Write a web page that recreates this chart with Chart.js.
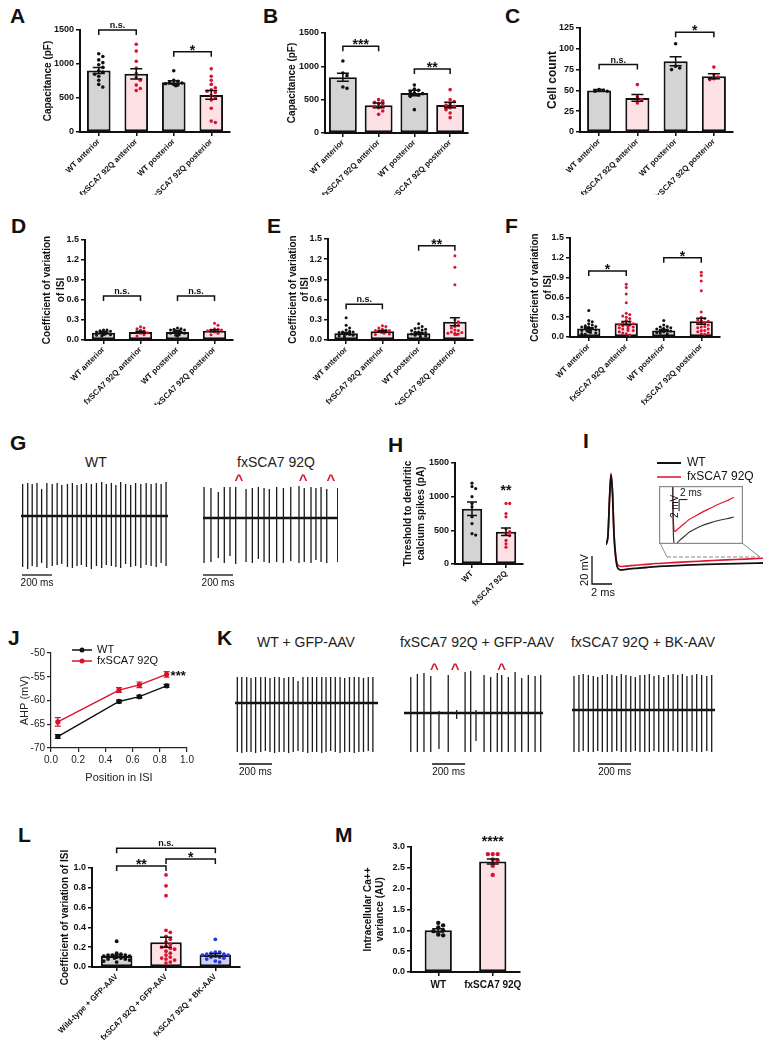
<!DOCTYPE html>
<html><head><meta charset="utf-8">
<script src="https://cdn.jsdelivr.net/npm/chart.js@4.4.1/dist/chart.umd.min.js"></script>
<style>
html,body{margin:0;padding:0;background:#fff;}
body{width:780px;height:1050px;position:relative;overflow:hidden;font-family:"Liberation Sans",Arial,sans-serif;color:#111;}
canvas{position:absolute;}
.lt{position:absolute;font-size:21px;font-weight:bold;line-height:1;}
.tt{position:absolute;font-size:14px;line-height:1;text-align:center;width:220px;margin-left:-110px;color:#222;white-space:nowrap;}
</style></head><body>
<div class="lt" style="left:10px;top:5px">A</div>
<div class="lt" style="left:263px;top:5px">B</div>
<div class="lt" style="left:505px;top:5px">C</div>
<div class="lt" style="left:11px;top:215px">D</div>
<div class="lt" style="left:267px;top:215px">E</div>
<div class="lt" style="left:505px;top:215px">F</div>
<div class="lt" style="left:10px;top:432px">G</div>
<div class="lt" style="left:388px;top:434px">H</div>
<div class="lt" style="left:583px;top:430px">I</div>
<div class="lt" style="left:8px;top:627px">J</div>
<div class="lt" style="left:217px;top:627px">K</div>
<div class="lt" style="left:18px;top:824px">L</div>
<div class="lt" style="left:335px;top:824px">M</div>
<div class="tt" style="left:96px;top:455px">WT</div>
<div class="tt" style="left:276px;top:455px">fxSCA7 92Q</div>
<div class="tt" style="left:306px;top:635px">WT + GFP-AAV</div>
<div class="tt" style="left:477px;top:635px">fxSCA7 92Q + GFP-AAV</div>
<div class="tt" style="left:643px;top:635px">fxSCA7 92Q + BK-AAV</div>
<script>
// ================= DATA =================
const catsRegion = ['WT anterior','fxSCA7 92Q anterior','WT posterior','fxSCA7 92Q posterior'];
const catsTwo = ['WT','fxSCA7 92Q'];
const catsL = ['Wild-type + GFP-AAV','fxSCA7 92Q + GFP-AAV','fxSCA7 92Q + BK-AAV'];

// A: capacitance (pF)
const A_mean=[905,855,730,545], A_sem=[45,75,25,65];
const A_wtAnt=[1150,1110,1060,1020,990,950,900,880,850,820,760,700,660];
const A_fxAnt=[1290,1190,1040,940,860,800,760,690,640,610];
const A_wtPost=[900,760,745,730,720,710,700,690,680];
const A_fxPost=[930,820,760,700,650,620,600,580,540,500,470,350,160,140];
// B: capacitance (pF)
const B_mean=[835,415,600,420], B_sem=[60,35,40,40];
const B_wtAnt=[1080,900,860,690,670];
const B_fxAnt=[500,480,460,440,420,400,380,330,280];
const B_wtPost=[720,660,640,620,600,590,570,550,350];
const B_fxPost=[650,500,470,440,420,400,380,350,300,230];
// C: cell count
const C_mean=[50,41,85,67], C_sem=[1,4,5.5,3];
const C_wtAnt=[51,50,49,49];
const C_fxAnt=[57,42,39,35];
const C_wtPost=[106,79,77,75];
const C_fxPost=[78,69,66,64,63];
// D: CV of ISI
const D_mean=[0.11,0.12,0.12,0.14], D_sem=[0.01,0.01,0.01,0.012];
const D_wtAnt=[0.15,0.15,0.14,0.13,0.12,0.12,0.11,0.1,0.1,0.09,0.08,0.08,0.07,0.06,0.12,0.11];
const D_fxAnt=[0.2,0.18,0.17,0.15,0.13,0.12,0.11,0.1,0.08,0.06];
const D_wtPost=[0.18,0.17,0.16,0.15,0.15,0.14,0.14,0.13,0.13,0.12,0.12,0.11,0.1,0.1,0.09,0.08,0.07,0.06,0.12,0.11];
const D_fxPost=[0.25,0.22,0.17,0.16,0.15,0.15,0.14,0.12,0.1,0.08];
// E: CV of ISI
const E_mean=[0.10,0.13,0.10,0.27], E_sem=[0.01,0.01,0.01,0.06];
const E_wtAnt=[0.33,0.22,0.18,0.15,0.13,0.12,0.11,0.1,0.09,0.08,0.07,0.06,0.05,0.1,0.08,0.12];
const E_fxAnt=[0.21,0.2,0.18,0.16,0.15,0.14,0.13,0.12,0.11,0.1,0.09,0.08,0.12,0.14];
const E_wtPost=[0.24,0.2,0.18,0.17,0.16,0.15,0.14,0.12,0.11,0.1,0.09,0.08,0.07,0.06,0.05,0.12,0.1,0.09];
const E_fxPost=[1.25,1.08,0.82,0.3,0.27,0.25,0.22,0.2,0.18,0.15,0.12,0.11,0.1,0.09,0.08,0.08,0.1,0.14];
// F: CV of ISI
const F_mean=[0.13,0.21,0.10,0.24], F_sem=[0.01,0.025,0.01,0.045];
const F_wtAnt=[0.4,0.25,0.23,0.2,0.18,0.17,0.16,0.15,0.14,0.13,0.12,0.12,0.11,0.1,0.1,0.09,0.08,0.07,0.06,0.05,0.04,0.15,0.13,0.11];
const F_fxAnt=[0.8,0.75,0.65,0.52,0.36,0.34,0.32,0.3,0.28,0.25,0.23,0.22,0.2,0.19,0.18,0.16,0.15,0.14,0.12,0.1,0.08,0.06,0.05,0.03,0.2,0.17,0.13,0.1];
const F_wtPost=[0.25,0.18,0.16,0.15,0.14,0.13,0.12,0.11,0.1,0.1,0.09,0.08,0.07,0.06,0.05,0.12,0.11];
const F_fxPost=[0.98,0.93,0.85,0.7,0.38,0.3,0.28,0.26,0.24,0.22,0.2,0.18,0.16,0.14,0.12,0.1,0.08,0.06,0.05,0.04,0.2,0.15,0.1,0.25];
// H: threshold (pA)
const H_mean=[820,480], H_sem=[100,55];
const H_wt=[1200,1150,1120,1000,900,850,700,600,450,430];
const H_fx=[900,900,750,700,520,480,450,420,350,300,250];
// L: CV of ISI
const L_mean=[0.11,0.25,0.12], L_sem=[0.012,0.05,0.015];
const L_wt=[0.26,0.14,0.13,0.12,0.12,0.11,0.11,0.1,0.1,0.09,0.09,0.08,0.08,0.07,0.06,0.05,0.1,0.12];
const L_fx=[0.93,0.82,0.72,0.37,0.35,0.31,0.28,0.25,0.23,0.21,0.2,0.19,0.18,0.16,0.14,0.12,0.1,0.09,0.08,0.07,0.05,0.04];
const L_bk=[0.28,0.15,0.15,0.14,0.13,0.13,0.12,0.12,0.11,0.1,0.1,0.09,0.08,0.06,0.05];
// M: Ca variance (AU)
const M_mean=[1.0,2.65], M_sem=[0.04,0.06];
const M_wt=[1.18,1.12,1.07,1.0,0.98,0.9,0.88];
const M_fx=[2.83,2.83,2.83,2.7,2.68,2.55,2.33];
// J: AHP (mV) vs position in ISI
const J_pos=[0.05,0.5,0.65,0.85];
const J_wt=[-67.6,-60.2,-59.2,-56.9], J_wtErr=[0.4,0.3,0.3,0.3];
const J_fx=[-64.5,-57.8,-56.7,-54.5], J_fxErr=[0.9,0.5,0.6,0.6];
// I: single spike waveform (ms, mV)
const I_t =[0,0.2,0.35,0.5,0.65,0.8,1.0,1.2,1.5,2,3,4,5,6,8,10,12,14,15.7];
const I_wt=[-52,-45,-20,-2,-15,-45,-63,-69,-70,-69.5,-68.8,-68.2,-67.6,-67.2,-66.5,-66,-65.6,-65.3,-65];
const I_fx=[-52,-45,-19,-1,-14,-44,-61,-66.5,-67.5,-67.2,-66.6,-66,-65.4,-65,-64.2,-63.5,-62.8,-62.2,-61.6];
// G/K spike trains: spike times (ms), upward and downward deflections
const G_wt_t=[11,45,75,107,138,173,209,242,273,311,344,375,404,438,471,505,540,571,605,635,667,700,734,767,802,838,871,905,938,971];
const G_wt_up=[32,33,32,33,27,33,32,33,31,32,33,31,32,33,32,33,34,32,33,31,34,32,31,33,32,33,32,33,32,34];
const G_wt_dn=[51,53,50,51,47,52,50,49,48,51,52,50,49,51,53,50,52,49,50,51,52,48,51,50,52,49,50,51,47,50];
const G_fx_t=[7,53,102,142,180,218,287,329,369,407,442,491,536,585,640,675,720,753,787,825,898];
const G_fx_up=[31,30,26,31,31,31,29,30,31,30,29,31,30,31,32,30,31,30,31,29,30];
const G_fx_dn=[45,44,40,45,38,46,44,45,41,44,45,44,45,43,45,44,45,42,44,45,44];
const G_fx_car=[240,667,853];
const K1_t=[14,41,71,97,125,156,184,212,240,268,297,325,353,382,412,441,469,495,526,552,580,608,637,665,694,723,751,779,808,836];
const K1_up=[26,26,26,25,26,26,26,25,26,26,25,26,26,22,26,26,26,26,26,26,26,26,26,25,26,26,26,25,26,26];
const K1_dn=[49,50,49,49,50,49,48,49,50,49,49,50,49,48,49,50,49,49,50,49,48,49,50,49,49,50,49,49,48,49];
const K2_t=[41,81,121,162,212,268,319,370,404,436,485,525,565,592,632,673,713,753,794,828];
const K2_up=[36,39,40,37,2,38,3,41,42,3,38,36,40,38,36,41,35,38,37,38];
const K2_dn=[39,39,39,39,36,39,6,39,39,28,39,39,39,39,39,39,39,39,39,39];
const K2_car=[184,309,592];
const K3_t=[12,42,68,99,129,156,184,214,242,271,299,327,356,384,412,441,469,497,526,556,584,613,641,669,697,728,756,786,817,847];
const K3_up=[34,35,36,35,34,33,35,36,35,34,36,35,34,33,35,35,36,34,35,33,35,36,35,36,34,35,36,35,34,35];
const K3_dn=[42,42,41,42,42,41,42,42,42,41,42,42,42,41,42,42,42,41,42,42,42,41,42,42,42,41,42,42,41,42];

// ================= STYLE / HELPERS =================
const FONT='"Liberation Sans", Arial, sans-serif';
Chart.defaults.font.family=FONT;
Chart.defaults.color='#111';
Chart.defaults.animation=false;
Chart.defaults.events=[];
Chart.defaults.plugins.legend.display=false;
Chart.defaults.plugins.tooltip.enabled=false;
const GREY='#d4d4d4', PINK='#fde1e5', LBLUE='#cdd1f6';
const K='#111111', R='#d9122e', BL='#2338d8';

function mkCanvas(b){
  const c=document.createElement('canvas');
  c.width=b.r-b.l; c.height=b.b-b.t;
  Object.assign(c.style,{left:b.l+'px',top:b.t+'px',width:(b.r-b.l)+'px',height:(b.b-b.t)+'px'});
  document.body.appendChild(c); return c;
}
function drawSig(ctx,t,cx,by){
  ctx.textAlign='center'; ctx.textBaseline='alphabetic'; ctx.fillStyle=K;
  if(t==='n.s.'){ctx.font='bold 9px '+FONT; ctx.fillText(t,cx,by);}
  else {ctx.font='bold 14px '+FONT; ctx.fillText(t,cx,by+5);}
}
const axGrid={display:true,drawOnChartArea:false,drawTicks:true,tickLength:4,color:K,lineWidth:1.5};
const axBorder={display:true,color:K,width:2};

function barPanel(box,area,o){
  const c=mkCanvas(box);
  const n=o.labels.length, cw=(area.r-area.l)/n, ppu=(area.b-area.t)/(o.max-o.min);
  const pts=[], cols=[], stepPx=o.dotR*2+0.5;
  o.groups.forEach((vals,gi)=>{
    const placed=[];
    const maxSlot=Math.max(1,Math.floor((cw*o.barPct/2-o.dotR)/stepPx));
    [...vals].sort((a,b)=>b-a).forEach(v=>{
      const py=v*ppu; let best=null;
      for(let s=0;s<=2*maxSlot;s++){
        const k=s===0?0:(s%2?Math.ceil(s/2):-s/2), ox=k*stepPx;
        if(!placed.some(p=>Math.abs(p.ox-ox)<stepPx*0.95&&Math.abs(p.py-py)<o.dotR*2)){best=ox;break;}
      }
      if(best===null) best=((placed.length%3)-1)*stepPx*0.5;
      placed.push({ox:best,py});
      pts.push({x:gi+best/cw,y:v}); cols.push(o.dotColors[gi]);
    });
  });
  const lh=o.ytLh, padT=o.ytPos-box.l-lh/2;
  const annot={id:'annot',afterDatasetsDraw(ch){
    const ctx=ch.ctx,x=ch.scales.x,y=ch.scales.y;
    ctx.save(); ctx.strokeStyle=K; ctx.lineWidth=1.5;
    o.means.forEach((m,i)=>{
      const cx=x.getPixelForValue(i),t=y.getPixelForValue(m+o.sem[i]),b=y.getPixelForValue(m-o.sem[i]),hw=o.capW;
      ctx.beginPath(); ctx.moveTo(cx,t); ctx.lineTo(cx,b);
      ctx.moveTo(cx-hw,t); ctx.lineTo(cx+hw,t); ctx.moveTo(cx-hw,b); ctx.lineTo(cx+hw,b); ctx.stroke();
    });
    (o.brackets||[]).forEach(br=>{
      const x1=x.getPixelForValue(br.a),x2=x.getPixelForValue(br.b),yy=y.getPixelForValue(br.y);
      ctx.beginPath(); ctx.moveTo(x1,yy+5); ctx.lineTo(x1,yy); ctx.lineTo(x2,yy); ctx.lineTo(x2,yy+5); ctx.stroke();
      drawSig(ctx,br.t,(x1+x2)/2,yy-2);
    });
    (o.marks||[]).forEach(mk=>drawSig(ctx,mk.t,x.getPixelForValue(mk.a),y.getPixelForValue(mk.y)));
    ctx.restore();
  }};
  new Chart(c,{
    type:'bar',
    data:{labels:o.labels,datasets:[
      {type:'bar',data:o.means,backgroundColor:o.fills,borderColor:K,borderWidth:2,borderSkipped:false,grouped:false,
       barPercentage:o.barPct,categoryPercentage:1,xAxisID:'x',yAxisID:'y',order:2},
      {type:'scatter',data:pts,xAxisID:'xd',yAxisID:'y',grouped:false,pointRadius:o.dotR,pointBorderWidth:0,
       pointBackgroundColor:cols,pointBorderColor:cols,order:1}
    ]},
    options:{responsive:false,maintainAspectRatio:false,
      layout:{padding:{left:0,top:area.t-box.t,right:box.r-area.r,bottom:0}},
      scales:{
        x:{type:'category',offset:true,grid:Object.assign({},axGrid,{offset:false}),border:axBorder,
           ticks:{autoSkip:false,maxRotation:o.rot,minRotation:o.rot,font:{size:o.xFs,weight:'bold'},color:K,padding:o.xPad||1},
           afterFit:s=>{s.height=box.b-area.b;}},
        xd:{type:'linear',display:false,offset:false,min:-0.5,max:n-0.5,grid:{offset:false}},
        y:{min:o.min,max:o.max,grid:axGrid,border:axBorder,
           ticks:{stepSize:o.step,font:{size:9,weight:'bold'},color:K,padding:2,callback:o.fmt},
           title:{display:true,text:o.ytitle,color:K,font:{size:o.ytFs,weight:'bold',lineHeight:lh/o.ytFs},padding:{top:padT,bottom:0}},
           afterFit:s=>{s.width=area.l-box.l;}}
      }},
    plugins:[annot]
  });
}
const fInt=v=>String(v), f1=v=>Number(v).toFixed(1);
const fillsRegion=[GREY,PINK,GREY,PINK], dotsRegion=[K,R,K,R];

// ---- Row 1
barPanel({l:10,t:5,r:250,b:195},{l:80,t:30,r:230,b:132},{labels:catsRegion,means:A_mean,sem:A_sem,
  groups:[A_wtAnt,A_fxAnt,A_wtPost,A_fxPost],fills:fillsRegion,dotColors:dotsRegion,min:0,max:1500,step:500,fmt:fInt,
  ytitle:'Capacitance (pF)',ytPos:48,ytFs:10,ytLh:12,rot:45,xFs:8,barPct:0.63,dotR:1.8,capW:6,
  brackets:[{a:0,b:1,y:1500,t:'n.s.'},{a:2,b:3,y:1180,t:'*'}]});
barPanel({l:255,t:5,r:490,b:195},{l:325,t:33,r:468,b:133},{labels:catsRegion,means:B_mean,sem:B_sem,
  groups:[B_wtAnt,B_fxAnt,B_wtPost,B_fxPost],fills:fillsRegion,dotColors:dotsRegion,min:0,max:1500,step:500,fmt:fInt,
  ytitle:'Capacitance (pF)',ytPos:292,ytFs:10,ytLh:12,rot:45,xFs:8,barPct:0.78,dotR:1.8,capW:6,
  brackets:[{a:0,b:1,y:1300,t:'***'},{a:2,b:3,y:960,t:'**'}]});
barPanel({l:510,t:5,r:775,b:195},{l:580,t:28,r:733,b:132},{labels:catsRegion,means:C_mean,sem:C_sem,
  groups:[C_wtAnt,C_fxAnt,C_wtPost,C_fxPost],fills:fillsRegion,dotColors:dotsRegion,min:0,max:125,step:25,fmt:fInt,
  ytitle:'Cell count',ytPos:553,ytFs:12,ytLh:14,rot:45,xFs:8,barPct:0.63,dotR:1.8,capW:6,
  brackets:[{a:0,b:1,y:81,t:'n.s.'},{a:2,b:3,y:120,t:'*'}]});
// ---- Row 2
barPanel({l:20,t:212,r:250,b:405},{l:85,t:240,r:233,b:340},{labels:catsRegion,means:D_mean,sem:D_sem,
  groups:[D_wtAnt,D_fxAnt,D_wtPost,D_fxPost],fills:fillsRegion,dotColors:dotsRegion,min:0,max:1.5,step:0.3,fmt:f1,
  ytitle:['Coefficient of variation','of ISI'],ytPos:47,ytFs:10,ytLh:14,rot:45,xFs:8,barPct:0.63,dotR:1.5,capW:5,
  brackets:[{a:0,b:1,y:0.66,t:'n.s.'},{a:2,b:3,y:0.66,t:'n.s.'}]});
barPanel({l:265,t:212,r:490,b:405},{l:328,t:239,r:473,b:340},{labels:catsRegion,means:E_mean,sem:E_sem,
  groups:[E_wtAnt,E_fxAnt,E_wtPost,E_fxPost],fills:fillsRegion,dotColors:dotsRegion,min:0,max:1.5,step:0.3,fmt:f1,
  ytitle:['Coefficient of variation','of ISI'],ytPos:293,ytFs:10,ytLh:12,rot:45,xFs:8,barPct:0.65,dotR:1.5,capW:5,
  brackets:[{a:0,b:1,y:0.53,t:'n.s.'},{a:2,b:3,y:1.4,t:'**'}]});
barPanel({l:510,t:212,r:740,b:405},{l:570,t:238,r:720,b:337},{labels:catsRegion,means:F_mean,sem:F_sem,
  groups:[F_wtAnt,F_fxAnt,F_wtPost,F_fxPost],fills:fillsRegion,dotColors:dotsRegion,min:0,max:1.5,step:0.3,fmt:f1,
  ytitle:['Coefficient of variation','of ISI'],ytPos:535,ytFs:10,ytLh:13,rot:45,xFs:8,barPct:0.62,dotR:1.5,capW:5,
  brackets:[{a:0,b:1,y:1.0,t:'*'},{a:2,b:3,y:1.2,t:'*'}]});
// ---- H
barPanel({l:395,t:440,r:540,b:615},{l:455,t:463,r:523,b:564},{labels:catsTwo,means:H_mean,sem:H_sem,
  groups:[H_wt,H_fx],fills:[GREY,PINK],dotColors:[K,R],min:0,max:1500,step:500,fmt:fInt,
  ytitle:['Threshold to dendritic','calcium spikes (pA)'],ytPos:408,ytFs:10,ytLh:13,rot:45,xFs:8,barPct:0.6,dotR:1.6,capW:5,
  marks:[{a:1,y:1100,t:'**'}]});
// ---- L
barPanel({l:20,t:835,r:255,b:1045},{l:92,t:868,r:240,b:967},{labels:catsL,means:L_mean,sem:L_sem,
  groups:[L_wt,L_fx,L_bk],fills:[GREY,PINK,LBLUE],dotColors:[K,R,BL],min:0,max:1.0,step:0.2,fmt:f1,
  ytitle:'Coefficient of variation of ISI',ytPos:65,ytFs:10,ytLh:12,rot:45,xFs:8,barPct:0.64,dotR:1.9,capW:6,
  brackets:[{a:0,b:1,y:1.02,t:'**'},{a:1,b:2,y:1.09,t:'*'},{a:0,b:2,y:1.2,t:'n.s.'}]});
// ---- M
barPanel({l:330,t:822,r:540,b:995},{l:411,t:847,r:520,b:972},{labels:catsTwo,means:M_mean,sem:M_sem,
  groups:[M_wt,M_fx],fills:[GREY,PINK],dotColors:[K,R],min:0,max:3.0,step:0.5,fmt:f1,
  ytitle:['Intracellular Ca++','variance (AU)'],ytPos:368,ytFs:10,ytLh:12,rot:0,xFs:10,xPad:3,barPct:0.5,dotR:2.2,capW:6,
  marks:[{a:1,y:3.14,t:'****'}]});

// ================= SPIKE TRAINS (G, K) =================
function traceChart(area,T,times,ups,dns,o){
  const box={l:area.l-4,t:area.t-4,r:area.r+4,b:area.b+24};
  const c=mkCanvas(box);
  const pts=[];
  times.forEach((t,i)=>{pts.push({x:t,y:ups[i]},{x:t,y:-dns[i]},{x:t,y:null});});
  const plug={id:'tr',afterDatasetsDraw(ch){
    const ctx=ch.ctx,x=ch.scales.x,y=ch.scales.y; ctx.save();
    const y0=y.getPixelForValue(0)+o.barOff;
    const x1=x.getPixelForValue(o.barT0),x2=x.getPixelForValue(o.barT0+200);
    ctx.strokeStyle=K; ctx.lineWidth=1.3; ctx.beginPath(); ctx.moveTo(x1,y0); ctx.lineTo(x2,y0); ctx.stroke();
    ctx.fillStyle=K; ctx.font='10px '+FONT; ctx.textAlign='center'; ctx.textBaseline='top';
    ctx.fillText('200 ms',(x1+x2)/2,y0+3);
    (o.carets||[]).forEach(t=>{
      ctx.fillStyle=R; ctx.font='bold 15px '+FONT; ctx.textBaseline='alphabetic';
      ctx.fillText('^',x.getPixelForValue(t),y.getPixelForValue(o.caretY)+8);
    });
    ctx.restore();
  }};
  new Chart(c,{type:'line',
    data:{datasets:[
      {data:pts,borderColor:'#1c1c1c',borderWidth:1.3,pointRadius:0,spanGaps:false,tension:0},
      {data:[{x:0,y:0},{x:T,y:0}],borderColor:K,borderWidth:2.6,pointRadius:0}
    ]},
    options:{responsive:false,maintainAspectRatio:false,
      layout:{padding:{left:area.l-box.l,top:area.t-box.t,right:box.r-area.r,bottom:box.b-area.b}},
      scales:{x:{type:'linear',display:false,min:0,max:T},y:{display:false,min:-(area.b-o.base),max:o.base-area.t}}},
    plugins:[plug]});
}
traceChart({l:21,t:468,r:168,b:578},984,G_wt_t,G_wt_up,G_wt_dn,{base:516,barT0:7,barOff:59});
traceChart({l:203,t:470,r:338,b:578},900,G_fx_t,G_fx_up,G_fx_dn,{base:518,barT0:0,barOff:57,carets:G_fx_car,caretY:41});
traceChart({l:235,t:660,r:378,b:765},867,K1_t,K1_up,K1_dn,{base:703,barT0:24,barOff:61});
traceChart({l:404,t:660,r:543,b:765},842,K2_t,K2_up,K2_dn,{base:713,barT0:170,barOff:51,carets:K2_car,caretY:47});
traceChart({l:572,t:660,r:715,b:765},867,K3_t,K3_up,K3_dn,{base:710,barT0:158,barOff:54});

// ================= I: spike waveform =================
(function(){
  const box={l:570,t:452,r:778,b:605}, area={l:606,t:465,r:763,b:577};
  const c=mkCanvas(box);
  const P=(px,py)=>[px-box.l,py-box.t];
  const plug={id:'iplug',afterDatasetsDraw(ch){
    const ctx=ch.ctx,x=ch.scales.x,y=ch.scales.y; ctx.save();
    const cx=x.getPixelForValue(-1.4), cy=y.getPixelForValue(-80), ty=y.getPixelForValue(-60), rx=x.getPixelForValue(0.6);
    ctx.strokeStyle=K; ctx.lineWidth=1.3; ctx.beginPath(); ctx.moveTo(cx,ty); ctx.lineTo(cx,cy); ctx.lineTo(rx,cy); ctx.stroke();
    ctx.fillStyle=K; ctx.font='11px '+FONT; ctx.textAlign='center'; ctx.textBaseline='top';
    ctx.fillText('2 ms',(cx+rx)/2+1,cy+3);
    ctx.save(); ctx.translate(cx-7,(cy+ty)/2); ctx.rotate(-Math.PI/2); ctx.textBaseline='middle'; ctx.fillText('20 mV',0,0); ctx.restore();
    ctx.lineWidth=2; ctx.strokeStyle=K; ctx.beginPath(); ctx.moveTo(...P(657,463)); ctx.lineTo(...P(681,463)); ctx.stroke();
    ctx.strokeStyle=R; ctx.lineWidth=1.5; ctx.beginPath(); ctx.moveTo(...P(657,477)); ctx.lineTo(...P(681,477)); ctx.stroke();
    ctx.fillStyle=K; ctx.font='12px '+FONT; ctx.textAlign='left'; ctx.textBaseline='middle';
    ctx.fillText('WT',...P(687,463)); ctx.fillText('fxSCA7 92Q',...P(687,477));
    ctx.strokeStyle='#8a8a8a'; ctx.lineWidth=1;
    ctx.beginPath(); ctx.moveTo(...P(660,543)); ctx.lineTo(...P(667,557)); ctx.moveTo(...P(742,543)); ctx.lineTo(...P(760,557)); ctx.stroke();
    ctx.setLineDash([4,2]); ctx.beginPath(); ctx.moveTo(...P(667,557)); ctx.lineTo(...P(760,557)); ctx.stroke();
    ctx.restore();
  }};
  new Chart(c,{type:'line',
    data:{datasets:[
      {data:I_t.map((t,i)=>({x:t,y:I_wt[i]})),borderColor:K,borderWidth:1.8,pointRadius:0,cubicInterpolationMode:'monotone'},
      {data:I_t.map((t,i)=>({x:t,y:I_fx[i]})),borderColor:'#e0142f',borderWidth:1.6,pointRadius:0,cubicInterpolationMode:'monotone'}
    ]},
    options:{responsive:false,maintainAspectRatio:false,
      layout:{padding:{left:area.l-box.l,top:area.t-box.t,right:box.r-area.r,bottom:box.b-area.b}},
      scales:{x:{type:'linear',display:false,min:0,max:15.7},y:{display:false,min:-75,max:5}}},
    plugins:[plug]});
  const ibox={l:659,t:486,r:743,b:544};
  const ic=mkCanvas(ibox);
  const iplug={id:'inset',
    beforeDraw(ch){const ctx=ch.ctx; ctx.save(); ctx.fillStyle='#fff'; ctx.fillRect(0,0,ch.width,ch.height); ctx.restore();},
    afterDraw(ch){const ctx=ch.ctx,x=ch.scales.x,y=ch.scales.y; ctx.save();
      ctx.strokeStyle='#8a8a8a'; ctx.lineWidth=1.2; ctx.strokeRect(0.6,0.6,ch.width-1.2,ch.height-1.2);
      const x1=x.getPixelForValue(2.5),x2=x.getPixelForValue(4.5),y1=y.getPixelForValue(-62),y2=y.getPixelForValue(-64);
      ctx.strokeStyle=K; ctx.lineWidth=1; ctx.beginPath(); ctx.moveTo(x2,y1); ctx.lineTo(x1,y1); ctx.lineTo(x1,y2); ctx.stroke();
      ctx.fillStyle=K; ctx.font='10px '+FONT; ctx.textAlign='left'; ctx.textBaseline='bottom';
      ctx.fillText('2 ms',x1+1,y1-1);
      ctx.save(); ctx.translate(x1-4,(y1+y2)/2+1); ctx.rotate(-Math.PI/2); ctx.textAlign='center'; ctx.textBaseline='middle'; ctx.fillText('2 mV',0,0); ctx.restore();
      ctx.restore();}};
  new Chart(ic,{type:'line',
    data:{datasets:[
      {data:I_t.map((t,i)=>({x:t,y:I_wt[i]})),borderColor:'#333',borderWidth:1.2,pointRadius:0,cubicInterpolationMode:'monotone'},
      {data:I_t.map((t,i)=>({x:t,y:I_fx[i]})),borderColor:'#e0142f',borderWidth:1.2,pointRadius:0,cubicInterpolationMode:'monotone'}
    ]},
    options:{responsive:false,maintainAspectRatio:false,layout:{padding:1},
      scales:{x:{type:'linear',display:false,min:-2.1,max:17.67},y:{display:false,min:-69.48,max:-59.83}}},
    plugins:[iplug]});
})();

// ================= J: AHP vs position =================
(function(){
  const box={l:12,t:630,r:205,b:786}, area={l:51,t:653,r:187,b:748};
  const c=mkCanvas(box);
  const P=(px,py)=>[px-box.l,py-box.t];
  const lh=13, padT=25-box.l-lh/2;
  const thin={display:true,drawOnChartArea:false,drawTicks:true,tickLength:4,color:'#222',lineWidth:1.2};
  const plug={id:'jplug',afterDatasetsDraw(ch){
    const ctx=ch.ctx,x=ch.scales.x,y=ch.scales.y; ctx.save(); ctx.lineWidth=1.2;
    [[J_wt,J_wtErr,K],[J_fx,J_fxErr,R]].forEach(([v,e,col])=>{
      ctx.strokeStyle=col;
      J_pos.forEach((p,i)=>{const cx=x.getPixelForValue(p),t=y.getPixelForValue(v[i]+e[i]),b=y.getPixelForValue(v[i]-e[i]);
        ctx.beginPath(); ctx.moveTo(cx,t); ctx.lineTo(cx,b); ctx.moveTo(cx-3,t); ctx.lineTo(cx+3,t); ctx.moveTo(cx-3,b); ctx.lineTo(cx+3,b); ctx.stroke();});
    });
    [[650,K,'WT'],[661,R,'fxSCA7 92Q']].forEach(([py,col,txt])=>{
      ctx.strokeStyle=col; ctx.fillStyle=col; ctx.lineWidth=1.5;
      ctx.beginPath(); ctx.moveTo(...P(72,py)); ctx.lineTo(...P(92,py)); ctx.stroke();
      ctx.beginPath(); ctx.arc(...P(82,py),2.5,0,Math.PI*2); ctx.fill();
      ctx.fillStyle=K; ctx.font='11px '+FONT; ctx.textAlign='left'; ctx.textBaseline='middle'; ctx.fillText(txt,...P(97,py));
    });
    ctx.fillStyle=K; ctx.font='bold 13px '+FONT; ctx.textAlign='left'; ctx.textBaseline='alphabetic';
    ctx.fillText('***',x.getPixelForValue(J_pos[3])+4,y.getPixelForValue(J_fx[3])+6);
    ctx.restore();
  }};
  new Chart(c,{type:'line',
    data:{datasets:[
      {data:J_pos.map((p,i)=>({x:p,y:J_wt[i]})),borderColor:K,backgroundColor:K,borderWidth:1.4,pointRadius:2.6,pointBorderWidth:0},
      {data:J_pos.map((p,i)=>({x:p,y:J_fx[i]})),borderColor:R,backgroundColor:R,borderWidth:1.4,pointRadius:2.6,pointBorderWidth:0}
    ]},
    options:{responsive:false,maintainAspectRatio:false,
      layout:{padding:{left:0,top:area.t-box.t,right:box.r-area.r,bottom:0}},
      scales:{
        x:{type:'linear',min:0,max:1,grid:thin,border:{display:true,color:'#222',width:1.2},
           ticks:{stepSize:0.2,font:{size:10},color:'#222',padding:2,callback:v=>Number(v).toFixed(1)},
           title:{display:true,text:'Position in ISI',font:{size:11,lineHeight:1.2},color:'#222',padding:{top:0,bottom:1}},
           afterFit:s=>{s.height=box.b-area.b;}},
        y:{min:-70,max:-50,grid:thin,border:{display:true,color:'#222',width:1.2},
           ticks:{stepSize:5,font:{size:10},color:'#222',padding:2,callback:v=>String(v)},
           title:{display:true,text:'AHP (mV)',font:{size:11,lineHeight:lh/11},color:'#222',padding:{top:padT,bottom:0}},
           afterFit:s=>{s.width=area.l-box.l;}}
      }},
    plugins:[plug]});
})();
</script>
</body></html>
